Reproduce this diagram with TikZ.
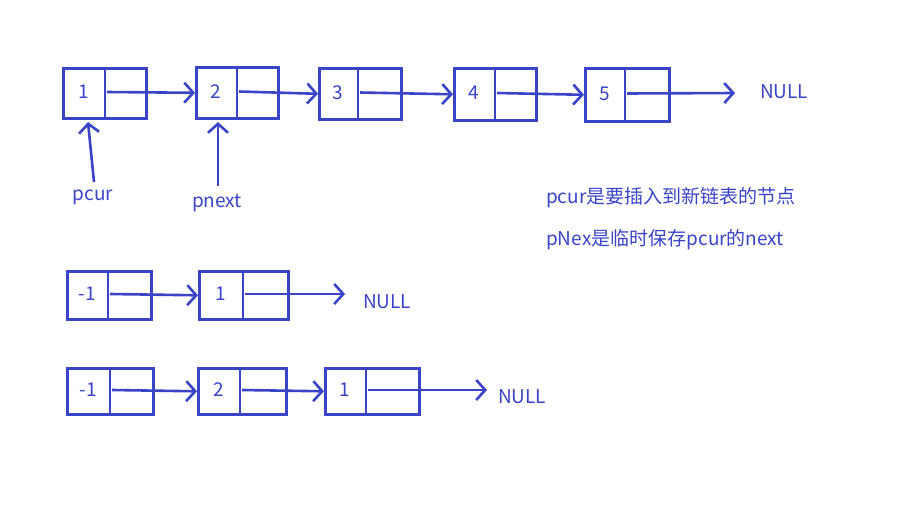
\documentclass[tikz,border=0pt]{standalone}
\usepackage{fontspec}
\setmainfont{Noto Sans CJK SC}
\usetikzlibrary{arrows.meta}
\definecolor{pen}{HTML}{3A44C8}
\tikzset{
  cell/.style={draw=pen,line width=2.6pt,minimum height=50pt,inner sep=0pt},
  link/.style={draw=pen,line width=2.6pt,-{Straight Barb[length=9pt,width=20pt,line width=2.6pt]}},
  txt/.style={text=pen,font=\fontsize{19}{22}\selectfont,inner sep=0pt}
}
% box: name, left x, top y, width, height, divider x, label
\newcommand\llbox[7]{%
  \node[cell,minimum width=#4pt,minimum height=#5pt,anchor=north west] (#1) at (#2,#3) {};
  \draw[pen,line width=2.6pt] (#6,#3) -- ++(0,-#5);
  \coordinate (#1r) at ({#6+2},{#3-#5/2});
  \node[txt] (#1t) at ({(#2+#6)/2},{#3-#5/2}) {#7};}
\begin{document}
\begin{tikzpicture}[x=1pt,y=1pt]
  \useasboundingbox (0,0) rectangle (898,-504);
  % first list
  \llbox{a1}{62}{-67}{83}{50}{105}{1}
  \llbox{a2}{195}{-66}{82}{51}{237}{2}
  \llbox{a3}{318}{-67}{82}{51}{358}{3}
  \llbox{a4}{453}{-67}{82}{52}{495}{4}
  \llbox{a5}{584}{-67}{84}{53}{625}{5}
  \draw[link] (a1r) -- (a2.west);
  \draw[link] (a2r) -- (a3.west);
  \draw[link] (a3r) -- (a4.west);
  \draw[link] (a4r) -- (a5.west);
  \coordinate (an) at (735,-93);
  \draw[link] (a5r) -- (an);
  \node[txt,anchor=west] (anull) at (760,-92) {NULL};
  % pointers
  \node[txt] (pcur) at (93,-197) {pcur};
  \node[txt] (pnext) at (217,-203) {pnext};
  \coordinate (pc) at (94,-182);
  \coordinate (pn) at (218,-186);
  \draw[link] (pc) -- (88,-122);
  \draw[link] (pn) -- (218,-122);
  \node[txt,anchor=west] (note1) at (546,-198) {pcur是要插入到新链表的节点};
  \node[txt,anchor=west] (note2) at (546,-240) {pNex是临时保存pcur的next};
  % second list
  \llbox{b1}{66}{-270}{84}{48}{108}{-1}
  \llbox{b2}{198}{-270}{89}{48}{243}{1}
  \draw[link] (b1r) -- (b2.west);
  \coordinate (bn) at (345,-294);
  \draw[link] (b2r) -- (bn);
  \node[txt,anchor=west] (bnull) at (363,-302) {NULL};
  % third list
  \llbox{c1}{66}{-367}{86}{46}{110}{-1}
  \llbox{c2}{197}{-367}{88}{46}{240}{2}
  \llbox{c3}{324}{-367}{94}{46}{366}{1}
  \draw[link] (c1r) -- (c2.west);
  \draw[link] (c2r) -- (c3.west);
  \coordinate (cn) at (487,-390);
  \draw[link] (c3r) -- (cn);
  \node[txt,anchor=west] (cnull) at (498,-397) {NULL};
\end{tikzpicture}
\end{document}
